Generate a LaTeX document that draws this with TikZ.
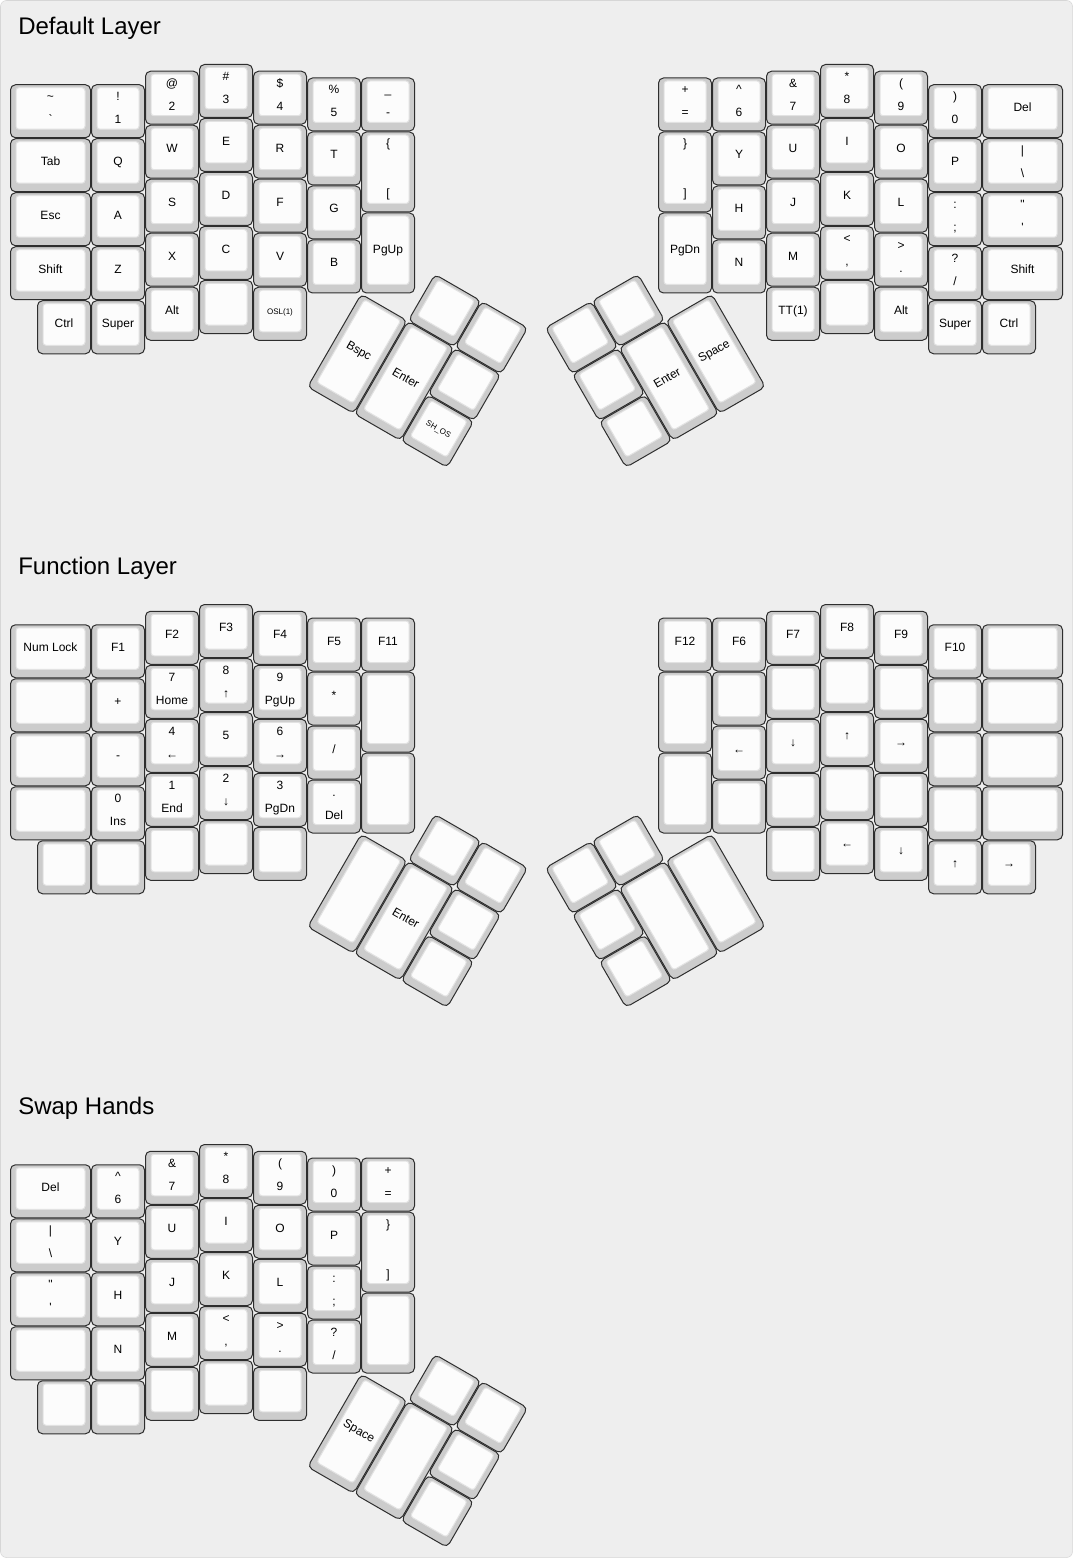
\documentclass[tikz,border=0pt]{standalone}
\usepackage{fontspec}
\newfontfamily\keyfont{Liberation Sans}
\definecolor{pagebg}{HTML}{EEEEEE}
\definecolor{pageedge}{HTML}{D6D6D6}
\definecolor{keygray}{HTML}{CCCCCC}
\definecolor{keywhite}{HTML}{FCFCFC}
\definecolor{keyedge}{HTML}{2E2E2E}
\definecolor{topedge}{HTML}{E2E2E2}
\tikzstyle{keyside}=[draw=keyedge,fill=keygray,line width=0.75pt,rounded corners=3.75pt]
\tikzstyle{keytop}=[draw=topedge,fill=keywhite,line width=0.75pt,rounded corners=2.25pt]
\tikzstyle{keylabel}=[anchor=base,inner sep=0pt,font=\keyfont\fontsize{9}{11}\selectfont]
\tikzstyle{layertitle}=[anchor=base west,inner sep=0pt,font=\keyfont\fontsize{18}{22}\selectfont]
\newcommand{\smallcap}{\fontsize{6}{7}\selectfont}
\newcounter{keyno}
% \drawkey{x}{y}{w}{h}{top legend}{bottom legend}, all in key units (1u = 54px)
\newcommand{\drawkey}[6]{
\pgfmathsetmacro{\kx}{54*(#1)}
\pgfmathsetmacro{\ky}{54*(#2)}
\pgfmathsetmacro{\kw}{54*(#3)}
\pgfmathsetmacro{\kh}{54*(#4)}
\stepcounter{keyno}
\draw[keyside] (\kx+0.5,\ky+0.5) rectangle (\kx+\kw-0.5,\ky+\kh-0.5);
\draw[keytop] (\kx+6,\ky+3.5) rectangle (\kx+\kw-6,\ky+\kh-9);
\if\relax\detokenize{#6}\relax
	\node[keylabel] (\layer\thekeyno) at (\kx+\kw/2,\ky+\kh/2+0.5) {#5};
\else
	\node[keylabel] (\layer\thekeyno t) at (\kx+\kw/2,\ky+16.5) {#5};
	\node[keylabel] (\layer\thekeyno b) at (\kx+\kw/2,\ky+\kh-14.5) {#6};
\fi
}
\newcommand{\keycap}[4]{\drawkey{#1}{#2}{1}{1}{#3}{#4}}

\begin{document}
\begin{tikzpicture}[x=0.75pt,y=-0.75pt]
\useasboundingbox (0,0) rectangle (1073,1558);
\draw[fill=pagebg,draw=pageedge,rounded corners=4.5pt] (0.5,0.5) rectangle (1072.5,1557.5);

%%% default layer
\begin{scope}[shift={(10,64)}]
\def\layer{d}
\node[layertitle] (dtitle) at (8,-29.5) {Default Layer};
% left hand
\drawkey{0}{0.375}{1.5}{1}{\textasciitilde}{`} \drawkey{0}{1.375}{1.5}{1}{Tab}{} \drawkey{0}{2.375}{1.5}{1}{Esc}{} \drawkey{0}{3.375}{1.5}{1}{Shift}{}
\keycap{0.5}{4.375}{Ctrl}{}
\keycap{1.5}{0.375}{!}{1} \keycap{1.5}{1.375}{Q}{} \keycap{1.5}{2.375}{A}{} \keycap{1.5}{3.375}{Z}{} \keycap{1.5}{4.375}{Super}{}
\keycap{2.5}{0.125}{@}{2} \keycap{2.5}{1.125}{W}{} \keycap{2.5}{2.125}{S}{} \keycap{2.5}{3.125}{X}{} \keycap{2.5}{4.125}{Alt}{}
\keycap{3.5}{0}{\#}{3} \keycap{3.5}{1}{E}{} \keycap{3.5}{2}{D}{} \keycap{3.5}{3}{C}{} \keycap{3.5}{4}{}{}
\keycap{4.5}{0.125}{\$}{4} \keycap{4.5}{1.125}{R}{} \keycap{4.5}{2.125}{F}{} \keycap{4.5}{3.125}{V}{} \keycap{4.5}{4.125}{\smallcap OSL(1)}{}
\keycap{5.5}{0.25}{\%}{5} \keycap{5.5}{1.25}{T}{} \keycap{5.5}{2.25}{G}{} \keycap{5.5}{3.25}{B}{}
\keycap{6.5}{0.25}{\_}{-} \drawkey{6.5}{1.25}{1}{1.5}{\{}{[} \drawkey{6.5}{2.75}{1}{1.5}{PgUp}{}
% right hand
\keycap{12}{0.25}{+}{=} \drawkey{12}{1.25}{1}{1.5}{\}}{]} \drawkey{12}{2.75}{1}{1.5}{PgDn}{}
\keycap{13}{0.25}{\textasciicircum}{6} \keycap{13}{1.25}{Y}{} \keycap{13}{2.25}{H}{} \keycap{13}{3.25}{N}{}
\keycap{14}{0.125}{\&}{7} \keycap{14}{1.125}{U}{} \keycap{14}{2.125}{J}{} \keycap{14}{3.125}{M}{} \keycap{14}{4.125}{TT(1)}{}
\keycap{15}{0}{*}{8} \keycap{15}{1}{I}{} \keycap{15}{2}{K}{} \keycap{15}{3}{<}{,} \keycap{15}{4}{}{}
\keycap{16}{0.125}{(}{9} \keycap{16}{1.125}{O}{} \keycap{16}{2.125}{L}{} \keycap{16}{3.125}{>}{.} \keycap{16}{4.125}{Alt}{}
\keycap{17}{0.375}{)}{0} \keycap{17}{1.375}{P}{} \keycap{17}{2.375}{:}{;} \keycap{17}{3.375}{?}{/} \keycap{17}{4.375}{Super}{}
\drawkey{18}{0.375}{1.5}{1}{Del}{} \drawkey{18}{1.375}{1.5}{1}{|}{\textbackslash} \drawkey{18}{2.375}{1.5}{1}{"}{'} \drawkey{18}{3.375}{1.5}{1}{Shift}{}
\keycap{18}{4.375}{Ctrl}{}
% thumbs
\begin{scope}[shift={(6.5*54,4.25*54)},rotate=-30,transform shape]
\keycap{1}{-1}{}{} \keycap{2}{-1}{}{}
\drawkey{0}{0}{1}{2}{Bspc}{} \drawkey{1}{0}{1}{2}{Enter}{} \keycap{2}{0}{}{}
\keycap{2}{1}{\smallcap SH\_OS}{}
\end{scope}
\begin{scope}[shift={(13*54,4.25*54)},rotate=30,transform shape]
\keycap{-3}{-1}{}{} \keycap{-2}{-1}{}{}
\keycap{-3}{0}{}{} \drawkey{-2}{0}{1}{2}{Enter}{} \drawkey{-1}{0}{1}{2}{Space}{}
\keycap{-3}{1}{}{}
\end{scope}
\end{scope}

%%% function layer
\begin{scope}[shift={(10,604)}]
\def\layer{f}
\node[layertitle] (ftitle) at (8,-29.5) {Function Layer};
% left hand
\drawkey{0}{0.375}{1.5}{1}{Num Lock}{} \drawkey{0}{1.375}{1.5}{1}{}{} \drawkey{0}{2.375}{1.5}{1}{}{} \drawkey{0}{3.375}{1.5}{1}{}{}
\keycap{0.5}{4.375}{}{}
\keycap{1.5}{0.375}{F1}{} \keycap{1.5}{1.375}{+}{} \keycap{1.5}{2.375}{-}{} \keycap{1.5}{3.375}{0}{Ins} \keycap{1.5}{4.375}{}{}
\keycap{2.5}{0.125}{F2}{} \keycap{2.5}{1.125}{7}{Home} \keycap{2.5}{2.125}{4}{←} \keycap{2.5}{3.125}{1}{End} \keycap{2.5}{4.125}{}{}
\keycap{3.5}{0}{F3}{} \keycap{3.5}{1}{8}{↑} \keycap{3.5}{2}{5}{} \keycap{3.5}{3}{2}{↓} \keycap{3.5}{4}{}{}
\keycap{4.5}{0.125}{F4}{} \keycap{4.5}{1.125}{9}{PgUp} \keycap{4.5}{2.125}{6}{→} \keycap{4.5}{3.125}{3}{PgDn} \keycap{4.5}{4.125}{}{}
\keycap{5.5}{0.25}{F5}{} \keycap{5.5}{1.25}{*}{} \keycap{5.5}{2.25}{/}{} \keycap{5.5}{3.25}{.}{Del}
\keycap{6.5}{0.25}{F11}{} \drawkey{6.5}{1.25}{1}{1.5}{}{} \drawkey{6.5}{2.75}{1}{1.5}{}{}
% right hand
\keycap{12}{0.25}{F12}{} \drawkey{12}{1.25}{1}{1.5}{}{} \drawkey{12}{2.75}{1}{1.5}{}{}
\keycap{13}{0.25}{F6}{} \keycap{13}{1.25}{}{} \keycap{13}{2.25}{←}{} \keycap{13}{3.25}{}{}
\keycap{14}{0.125}{F7}{} \keycap{14}{1.125}{}{} \keycap{14}{2.125}{↓}{} \keycap{14}{3.125}{}{} \keycap{14}{4.125}{}{}
\keycap{15}{0}{F8}{} \keycap{15}{1}{}{} \keycap{15}{2}{↑}{} \keycap{15}{3}{}{} \keycap{15}{4}{←}{}
\keycap{16}{0.125}{F9}{} \keycap{16}{1.125}{}{} \keycap{16}{2.125}{→}{} \keycap{16}{3.125}{}{} \keycap{16}{4.125}{↓}{}
\keycap{17}{0.375}{F10}{} \keycap{17}{1.375}{}{} \keycap{17}{2.375}{}{} \keycap{17}{3.375}{}{} \keycap{17}{4.375}{↑}{}
\drawkey{18}{0.375}{1.5}{1}{}{} \drawkey{18}{1.375}{1.5}{1}{}{} \drawkey{18}{2.375}{1.5}{1}{}{} \drawkey{18}{3.375}{1.5}{1}{}{}
\keycap{18}{4.375}{→}{}
% thumbs
\begin{scope}[shift={(6.5*54,4.25*54)},rotate=-30,transform shape]
\keycap{1}{-1}{}{} \keycap{2}{-1}{}{}
\drawkey{0}{0}{1}{2}{}{} \drawkey{1}{0}{1}{2}{Enter}{} \keycap{2}{0}{}{}
\keycap{2}{1}{}{}
\end{scope}
\begin{scope}[shift={(13*54,4.25*54)},rotate=30,transform shape]
\keycap{-3}{-1}{}{} \keycap{-2}{-1}{}{}
\keycap{-3}{0}{}{} \drawkey{-2}{0}{1}{2}{}{} \drawkey{-1}{0}{1}{2}{}{}
\keycap{-3}{1}{}{}
\end{scope}
\end{scope}

%%% swap hands
\begin{scope}[shift={(10,1144)}]
\def\layer{s}
\node[layertitle] (stitle) at (8,-29.5) {Swap Hands};
\drawkey{0}{0.375}{1.5}{1}{Del}{} \drawkey{0}{1.375}{1.5}{1}{|}{\textbackslash} \drawkey{0}{2.375}{1.5}{1}{"}{'} \drawkey{0}{3.375}{1.5}{1}{}{}
\keycap{0.5}{4.375}{}{}
\keycap{1.5}{0.375}{\textasciicircum}{6} \keycap{1.5}{1.375}{Y}{} \keycap{1.5}{2.375}{H}{} \keycap{1.5}{3.375}{N}{} \keycap{1.5}{4.375}{}{}
\keycap{2.5}{0.125}{\&}{7} \keycap{2.5}{1.125}{U}{} \keycap{2.5}{2.125}{J}{} \keycap{2.5}{3.125}{M}{} \keycap{2.5}{4.125}{}{}
\keycap{3.5}{0}{*}{8} \keycap{3.5}{1}{I}{} \keycap{3.5}{2}{K}{} \keycap{3.5}{3}{<}{,} \keycap{3.5}{4}{}{}
\keycap{4.5}{0.125}{(}{9} \keycap{4.5}{1.125}{O}{} \keycap{4.5}{2.125}{L}{} \keycap{4.5}{3.125}{>}{.} \keycap{4.5}{4.125}{}{}
\keycap{5.5}{0.25}{)}{0} \keycap{5.5}{1.25}{P}{} \keycap{5.5}{2.25}{:}{;} \keycap{5.5}{3.25}{?}{/}
\keycap{6.5}{0.25}{+}{=} \drawkey{6.5}{1.25}{1}{1.5}{\}}{]} \drawkey{6.5}{2.75}{1}{1.5}{}{}
% thumbs
\begin{scope}[shift={(6.5*54,4.25*54)},rotate=-30,transform shape]
\keycap{1}{-1}{}{} \keycap{2}{-1}{}{}
\drawkey{0}{0}{1}{2}{Space}{} \drawkey{1}{0}{1}{2}{}{} \keycap{2}{0}{}{}
\keycap{2}{1}{}{}
\end{scope}
\end{scope}
\end{tikzpicture}
\end{document}
